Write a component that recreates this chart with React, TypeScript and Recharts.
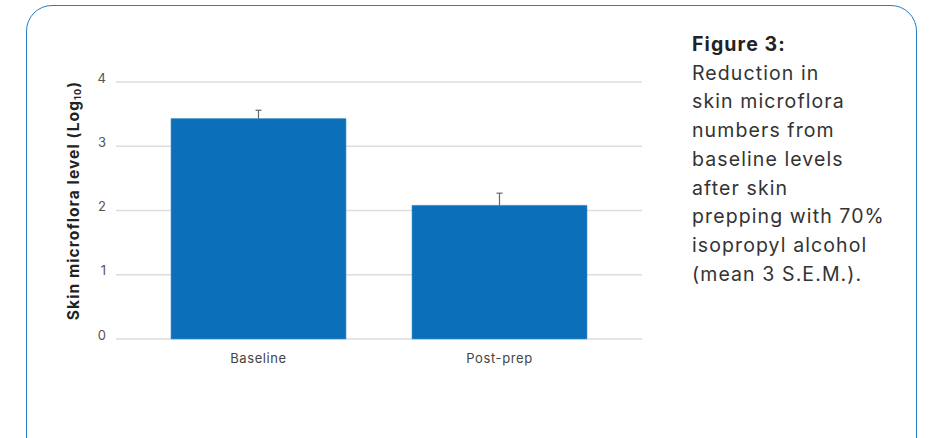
import React from 'react';
import { BarChart, Bar, XAxis, YAxis, CartesianGrid, Rectangle } from 'recharts';

const categories = ['Baseline', 'Post-prep'];
const means = [3.43, 2.08];
const semUpper = [0.13, 0.19];
const yTicks = [0, 1, 2, 3, 4];

const captionTitle = 'Figure 3:';
const captionLines = [
  'Reduction in',
  'skin microflora',
  'numbers from',
  'baseline levels',
  'after skin',
  'prepping with 70%',
  'isopropyl alcohol',
  '(mean 3 S.E.M.).',
];

const FONT = 'Inter, "Open Sans", sans-serif';

const data = categories.map((name, i) => ({
  name,
  value: means[i],
  sem: semUpper[i],
}));

// bar plus upward-only whisker (the lower half sits behind the bar)
const BarWithSem = (props: any) => {
  const { x, y, width, height, payload, fill } = props;
  const pxPerUnit = height / payload.value;
  const cx = x + width / 2;
  const top = y - payload.sem * pxPerUnit;
  return (
    <g>
      <Rectangle x={x} y={y} width={width} height={height} fill={fill} stroke="#4f95cc" strokeWidth={0.6} />
      <line x1={cx} y1={y} x2={cx} y2={top} stroke="#666" strokeWidth={1.2} />
      <line x1={cx - 3} y1={top} x2={cx + 3} y2={top} stroke="#666" strokeWidth={1.2} />
    </g>
  );
};

// rotated y label with a subscript 10
const YLabel = (props: any) => {
  const { viewBox } = props;
  const x = 73;
  const y = viewBox.y + viewBox.height / 2 - 10;
  return (
    <text
      x={x}
      y={y}
      transform={`rotate(-90, ${x}, ${y})`}
      textAnchor="middle"
      dominantBaseline="central"
      fontFamily={FONT}
      fontSize={15.5}
      fontWeight={700}
      letterSpacing={1.1}
      fill="#222"
    >
      Skin microflora level (Log
      <tspan fontSize={9} dy={4}>10</tspan>
      <tspan dy={-4}>)</tspan>
    </text>
  );
};

const App: React.FC = () => {
  return (
    <div style={{ position: 'absolute', left: 0, top: 0, width: 932, height: 438, overflow: 'hidden', background: '#fff' }}>
      <div
        style={{
          position: 'absolute',
          left: 26,
          top: 5,
          width: 889,
          height: 480,
          border: '1.5px solid #2a7cc7',
          borderRadius: 26,
        }}
      />
      <div style={{ position: 'absolute', left: 0, top: 0 }}>
        <BarChart
          width={660}
          height={438}
          data={data}
          margin={{ top: 82, right: 18, bottom: 69, left: 76 }}
          barSize={175}
        >
          <CartesianGrid vertical={false} stroke="#dddddd" strokeWidth={1.5} />
          <XAxis
            dataKey="name"
            axisLine={false}
            tickLine={false}
            tickMargin={9}
            padding={{ left: 22, right: 22 }}
            tick={{ fill: '#444', fontSize: 13, fontFamily: FONT, letterSpacing: 0.6 }}
          />
          <YAxis
            width={40}
            domain={[0, 4]}
            ticks={yTicks}
            axisLine={false}
            tickLine={false}
            tickMargin={4}
            tick={{ fill: '#555', fontSize: 13, fontFamily: FONT, dy: -4 }}
            label={<YLabel />}
          />
          <Bar dataKey="value" fill="#0b6fba" shape={<BarWithSem />} isAnimationActive={false} />
        </BarChart>
      </div>
      <div
        style={{
          position: 'absolute',
          left: 692,
          top: 30,
          fontFamily: FONT,
          fontSize: 19.5,
          lineHeight: '28.7px',
          letterSpacing: 1.1,
          color: '#333',
        }}
      >
        <div style={{ fontWeight: 700, color: '#222' }}>{captionTitle}</div>
        {captionLines.map((line) => (
          <div key={line}>{line}</div>
        ))}
      </div>
    </div>
  );
};

export default App;
